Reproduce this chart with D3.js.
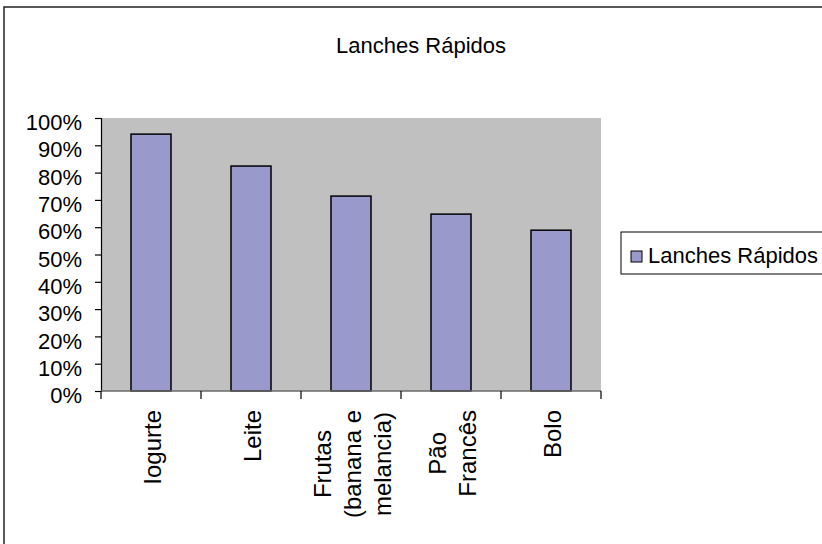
<!DOCTYPE html>
<html>
<head>
<meta charset="utf-8">
<script src="https://cdn.jsdelivr.net/npm/d3@7"></script>
<style>
  body { margin: 0; background: #fff; }
  svg { display: block; font-family: "Liberation Sans", Arial, sans-serif; }
</style>
</head>
<body>
<div id="chart"></div>
<script>
var categories = ["Iogurte", "Leite", "Frutas (banana e melancia)", "Pão Francês", "Bolo"];
var values = [0.941, 0.824, 0.714, 0.648, 0.589];
var seriesName = "Lanches Rápidos";
var yTicks = [0, 0.1, 0.2, 0.3, 0.4, 0.5, 0.6, 0.7, 0.8, 0.9, 1];

var width = 822, height = 544;

var svg = d3.select("#chart").append("svg")
    .attr("width", width)
    .attr("height", height);

// outer chart frame (runs off the right and bottom edge)
svg.append("rect")
    .attr("x", 4).attr("y", 7)
    .attr("width", 840).attr("height", 560)
    .attr("fill", "#fff")
    .attr("stroke", "#222")
    .attr("stroke-width", 1.5);

svg.append("text")
    .attr("x", 421).attr("y", 53)
    .attr("text-anchor", "middle")
    .attr("font-size", "22px")
    .attr("fill", "#000")
    .text(seriesName);

var plot = {left: 101, right: 601, top: 118, bottom: 391};

var x = d3.scaleBand()
    .domain(categories)
    .range([plot.left, plot.right])
    .paddingInner(0.6)
    .paddingOuter(0.3);

var y = d3.scaleLinear()
    .domain([0, 1])
    .range([plot.bottom, plot.top]);

// grey plot area
svg.append("rect")
    .attr("x", plot.left).attr("y", plot.top)
    .attr("width", plot.right - plot.left)
    .attr("height", plot.bottom - plot.top)
    .attr("fill", "#c0c0c0");

// bars
svg.append("g")
  .selectAll("rect")
  .data(values)
  .enter()
  .append("rect")
  .attr("x", function(d, i) { return x(categories[i]); })
  .attr("y", function(d) { return y(d); })
  .attr("width", x.bandwidth())
  .attr("height", function(d) { return y(0) - y(d); })
  .attr("fill", "#9999cc")
  .attr("stroke", "#000")
  .attr("stroke-width", 1.5);

// y axis
var yAxis = svg.append("g")
    .attr("transform", "translate(" + plot.left + ",0)")
    .call(d3.axisLeft(y).tickValues(yTicks).tickFormat(d3.format(".0%")).tickSize(6).tickPadding(13));
yAxis.select(".domain").attr("stroke", "#000").attr("stroke-width", 1.2);
yAxis.selectAll(".tick line").attr("stroke", "#000").attr("stroke-width", 1.2);
yAxis.selectAll(".tick text")
    .attr("font-size", "22px")
    .attr("font-family", "Liberation Sans, Arial, sans-serif")
    .attr("fill", "#000")
    .attr("dy", "0.53em");

// x axis line and ticks at category boundaries
svg.append("line")
    .attr("x1", plot.left).attr("x2", plot.right)
    .attr("y1", y(0)).attr("y2", y(0))
    .attr("stroke", "#6a6a6a")
    .attr("stroke-width", 1.5);

var bounds = categories.map(function(c) { return x(c) - x.step() * x.paddingOuter(); });
bounds.push(plot.right);

svg.append("g")
  .selectAll("line")
  .data(bounds)
  .enter()
  .append("line")
  .attr("x1", function(d) { return d; })
  .attr("x2", function(d) { return d; })
  .attr("y1", y(0))
  .attr("y2", y(0) + 8)
  .attr("stroke", "#000")
  .attr("stroke-width", 1.2);

// rotated category labels
var lineGap = 30;
var labels = svg.append("g")
  .selectAll("g")
  .data(categories)
  .enter()
  .append("g")
  .attr("transform", function(d) {
      return "translate(" + (x(d) + x.bandwidth() / 2) + ",410) rotate(-90)";
  });

labels.each(function(d) {
    var g = d3.select(this);
    var lines = wrap(g, d, 120);
    var maxLen = 0;
    lines.forEach(function(t) { maxLen = Math.max(maxLen, t.node().getComputedTextLength()); });
    var n = lines.length;
    lines.forEach(function(t, i) {
        t.attr("x", -maxLen / 2)
         .attr("y", 10 + (i - (n - 1) / 2) * lineGap);
    });
});

function wrap(g, label, maxWidth) {
    var words = label.split(/\s+/).reverse(),
        word,
        line = [],
        out = [],
        t = newLine();
    function newLine() {
        var el = g.append("text")
            .attr("text-anchor", "middle")
            .attr("font-size", "24px")
            .attr("fill", "#000");
        out.push(el);
        return el;
    }
    while (word = words.pop()) {
        line.push(word);
        t.text(line.join(" "));
        if (t.node().getComputedTextLength() > maxWidth && line.length > 1) {
            line.pop();
            t.text(line.join(" "));
            line = [word];
            t = newLine().text(word);
        }
    }
    return out;
}

// legend
var legend = svg.append("g");
legend.append("rect")
    .attr("x", 621).attr("y", 232)
    .attr("width", 230).attr("height", 42)
    .attr("fill", "#fff")
    .attr("stroke", "#000")
    .attr("stroke-width", 1);
legend.append("rect")
    .attr("x", 631).attr("y", 251)
    .attr("width", 11).attr("height", 11)
    .attr("fill", "#9999cc")
    .attr("stroke", "#000")
    .attr("stroke-width", 1);
legend.append("text")
    .attr("x", 648).attr("y", 263)
    .attr("font-size", "22px")
    .attr("fill", "#000")
    .text(seriesName);
</script>
</body>
</html>
